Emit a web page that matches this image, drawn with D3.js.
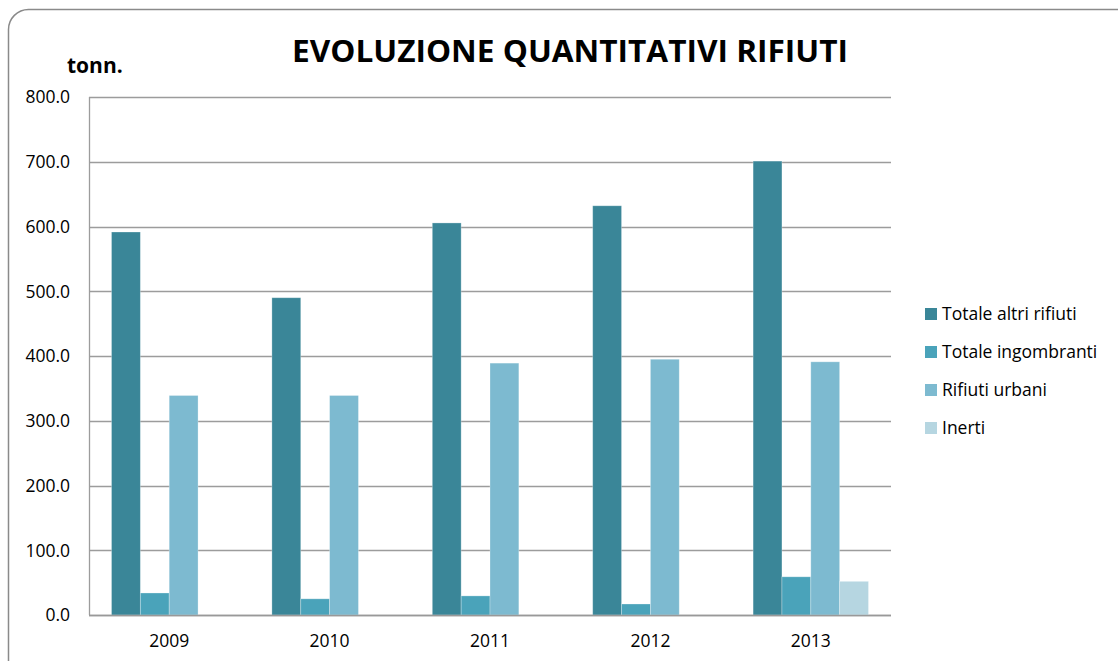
<!DOCTYPE html>
<html>
<head>
<meta charset="utf-8">
<script src="https://cdn.jsdelivr.net/npm/d3@7/dist/d3.min.js"></script>
<style>
    body { margin: 0; background: #fff; }
    svg { display: block; }
    text { font-family: "Open Sans", "Noto Sans", sans-serif; fill: #000; }
</style>
</head>
<body>
<svg id="chart" width="1118" height="661"></svg>
<script>
// chart data
const years = ['2009', '2010', '2011', '2012', '2013'];
const seriesNames = ['Totale altri rifiuti', 'Totale ingombranti', 'Rifiuti urbani', 'Inerti'];
const totaleAltri = [591.5, 490.0, 605.5, 632.0, 701.0];
const totaleIngombranti = [34.0, 25.0, 29.5, 17.0, 59.0];
const rifiutiUrbani = [339.0, 339.0, 389.0, 395.0, 391.0];
const inerti = [0, 0, 0, 0, 52.0];
const yTicks = [0, 100, 200, 300, 400, 500, 600, 700, 800];
const colors = ['#3a8698', '#4aa3ba', '#7dbad0', '#b6d6e1'];

const seriesValues = [totaleAltri, totaleIngombranti, rifiutiUrbani, inerti];

const svg = d3.select('#chart');

// outer rounded frame (runs off the right and bottom edges)
svg.append('rect')
    .attr('x', 8.5)
    .attr('y', 9.5)
    .attr('width', 1140)
    .attr('height', 680)
    .attr('rx', 20)
    .attr('fill', 'none')
    .attr('stroke', '#8a8a8a')
    .attr('stroke-width', 1.5);

const plot = { left: 89, right: 891, top: 97, bottom: 615 };

const x = d3.scaleBand()
    .domain(years)
    .range([plot.left, plot.right])
    .padding(0);

const inner = d3.scaleBand()
    .domain(seriesNames)
    .range([22.5, x.bandwidth() - 22.5])
    .padding(0);

const y = d3.scaleLinear()
    .domain([0, 800])
    .range([plot.bottom, plot.top]);

// gridlines
svg.append('g')
    .selectAll('line')
    .data(yTicks)
    .join('line')
    .attr('x1', plot.left)
    .attr('x2', plot.right)
    .attr('y1', d => Math.round(y(d)) + 0.5)
    .attr('y2', d => Math.round(y(d)) + 0.5)
    .attr('stroke', '#9c9c9c')
    .attr('stroke-width', 1.3);

// bars
const groups = svg.append('g')
    .selectAll('g')
    .data(years)
    .join('g')
    .attr('transform', d => `translate(${x(d)},0)`);

groups.selectAll('rect')
    .data((yr, i) => seriesNames.map((s, k) => ({ s, k, v: seriesValues[k][i] })))
    .join('rect')
    .filter(d => d.v > 0)
    .attr('x', d => inner(d.s))
    .attr('width', inner.bandwidth())
    .attr('y', d => y(d.v))
    .attr('height', d => y(0) - y(d.v))
    .attr('fill', d => colors[d.k])
    .attr('stroke', '#ffffff')
    .attr('stroke-opacity', 0.35)
    .attr('stroke-width', 0.8);

// y axis line
svg.append('line')
    .attr('x1', plot.left + 0.5)
    .attr('x2', plot.left + 0.5)
    .attr('y1', plot.top)
    .attr('y2', plot.bottom)
    .attr('stroke', '#9c9c9c')
    .attr('stroke-width', 1.3);

// x axis baseline
svg.append('line')
    .attr('x1', plot.left)
    .attr('x2', plot.right)
    .attr('y1', plot.bottom + 0.5)
    .attr('y2', plot.bottom + 0.5)
    .attr('stroke', '#999999')
    .attr('stroke-width', 1.5);

// y tick labels
svg.append('g')
    .selectAll('text')
    .data(yTicks)
    .join('text')
    .attr('x', 70)
    .attr('y', d => y(d))
    .attr('dy', '0.36em')
    .attr('text-anchor', 'end')
    .attr('font-size', '17.5px')
    .text(d => d3.format('.1f')(d));

// x labels
svg.append('g')
    .selectAll('text')
    .data(years)
    .join('text')
    .attr('x', d => x(d) + x.bandwidth() / 2)
    .attr('y', 647)
    .attr('text-anchor', 'middle')
    .attr('font-size', '17.5px')
    .text(d => d);

// title
svg.append('text')
    .attr('x', 570)
    .attr('y', 62)
    .attr('text-anchor', 'middle')
    .attr('font-size', '30px')
    .attr('font-weight', 'bold')
    .attr('textLength', 556)
    .attr('lengthAdjust', 'spacingAndGlyphs')
    .text('EVOLUZIONE QUANTITATIVI RIFIUTI');

// unit label
svg.append('text')
    .attr('x', 67)
    .attr('y', 73)
    .attr('font-size', '21px')
    .attr('font-weight', 'bold')
    .text('tonn.');

// legend
const legend = svg.append('g')
    .selectAll('g')
    .data(seriesNames)
    .join('g')
    .attr('transform', (d, i) => `translate(925,${314 + i * 38})`);

legend.append('rect')
    .attr('x', 0)
    .attr('y', -6)
    .attr('width', 12)
    .attr('height', 12)
    .attr('fill', (d, i) => colors[i]);

legend.append('text')
    .attr('x', 17)
    .attr('y', 0)
    .attr('dy', '0.36em')
    .attr('font-size', '17.5px')
    .text(d => d);
</script>
</body>
</html>
